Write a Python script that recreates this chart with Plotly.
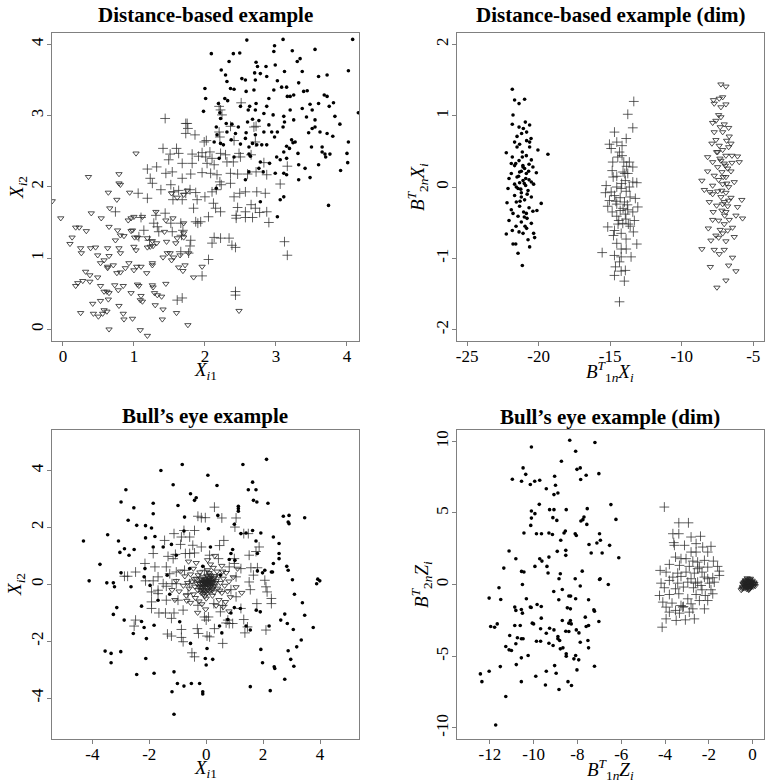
import plotly.graph_objects as go

# ---------------- data ----------------
# Panel 1: Distance-based example  (x = X_i1, y = X_i2)
dist_dots = [(4.08,4.07),(3.10,4.07),(2.59,4.06),(2.09,3.87),(2.40,3.87),(2.49,3.88),(3.23,3.91),(3.55,3.93),(2.98,3.98),(2.97,3.90),(3.34,3.80),(3.30,3.76),(2.34,3.76),(2.72,3.75),(2.74,3.69),(2.86,3.69),(2.99,3.71),(2.23,3.64),(3.37,3.62),(4.02,3.63),(3.12,3.62),(2.29,3.57),(2.70,3.60),(2.78,3.59),(2.87,3.55),(3.72,3.57),(3.60,3.55),(2.52,3.52),(2.57,3.50),(2.31,3.48),(2.71,3.50),(3.02,3.49),(3.32,3.46),(2.00,3.38),(2.36,3.38),(2.41,3.37),(3.08,3.40),(3.15,3.40),(2.58,3.34),(2.69,3.36),(2.97,3.36),(3.20,3.27),(3.25,3.29),(3.39,3.34),(3.44,3.35),(3.68,3.29),(3.72,3.27),(2.01,3.24),(2.28,3.24),(3.16,3.27),(2.90,3.24),(3.60,3.17),(3.81,3.18),(3.75,3.13),(2.32,3.21),(2.19,3.17),(2.50,3.13),(2.63,3.13),(2.72,3.17),(2.87,3.13),(2.71,3.08),(2.61,3.08),(3.37,3.10),(3.48,3.16),(3.51,3.08),(4.16,3.04),(1.98,3.06),(2.21,3.04),(3.20,3.08),(2.83,3.03),(2.96,3.01),(3.11,2.99),(3.43,2.98),(3.83,2.99),(2.22,2.96),(2.76,2.93),(2.67,2.95),(2.30,2.89),(2.38,2.88),(2.60,2.91),(3.12,2.91),(3.25,2.94),(2.16,2.84),(2.90,2.87),(3.55,2.94),(3.90,2.88),(2.47,2.84),(3.51,2.82),(3.55,2.84),(3.02,2.77),(3.10,2.84),(2.31,2.77),(2.43,2.75),(2.58,2.76),(2.71,2.73),(2.83,2.77),(2.94,2.77),(2.98,2.70),(3.46,2.76),(3.62,2.77),(3.72,2.75),(2.17,2.73),(2.37,2.66),(2.57,2.68),(2.13,2.63),(2.22,2.61),(2.67,2.61),(2.80,2.59),(2.87,2.59),(3.22,2.66),(3.24,2.62),(3.27,2.63),(3.80,2.71),(2.26,2.59),(2.50,2.60),(2.62,2.56),(2.73,2.59),(3.15,2.57),(3.19,2.54),(3.50,2.56),(3.65,2.56),(4.02,2.63),(2.62,2.46),(3.11,2.49),(3.31,2.47),(3.65,2.49),(3.69,2.46),(3.76,2.46),(4.00,2.47),(4.01,2.34),(3.70,2.42),(3.06,2.38),(3.15,2.40),(2.20,2.40),(2.41,2.42),(2.64,2.43),(2.78,2.35),(2.91,2.33),(3.01,2.42),(3.32,2.31),(3.41,2.26),(3.60,2.31),(2.76,2.26),(2.82,2.21),(2.99,2.19),(3.11,2.19),(3.32,2.10),(3.48,2.13),(3.91,2.23),(3.15,2.17),(3.06,1.82),(3.11,1.86),(3.02,1.58),(2.78,1.79),(3.74,1.74),(2.16,1.98),(2.57,2.10),(2.62,2.21)]
dist_plus = [(1.44,2.96),(1.73,2.89),(1.75,2.89),(1.76,2.82),(1.73,2.75),(1.86,2.73),(2.02,2.65),(1.99,2.63),(2.20,3.13),(2.22,3.08),(2.24,3.01),(2.36,2.85),(2.20,2.77),(2.21,2.70),(2.69,2.84),(2.72,2.85),(2.51,3.18),(2.41,2.65),(2.71,2.63),(1.41,2.54),(1.60,2.54),(1.51,2.46),(1.63,2.47),(1.49,2.38),(1.68,2.33),(1.82,2.46),(1.82,2.33),(1.91,2.43),(1.96,2.48),(2.01,2.42),(2.07,2.49),(2.10,2.40),(2.03,2.33),(2.13,2.31),(2.22,2.47),(2.29,2.45),(2.31,2.35),(2.40,2.35),(2.48,2.47),(2.50,2.42),(2.65,2.45),(2.83,2.34),(1.19,2.25),(1.32,2.28),(1.45,2.19),(1.54,2.21),(1.23,2.12),(1.26,2.05),(1.52,2.03),(1.68,2.12),(1.80,2.18),(1.96,2.20),(2.08,2.19),(2.17,2.17),(2.21,2.07),(2.36,2.19),(2.46,2.18),(2.60,2.18),(2.72,2.21),(2.87,2.17),(3.16,2.29),(3.06,2.04),(1.38,1.96),(1.56,1.93),(1.63,1.95),(1.55,1.82),(1.68,1.82),(1.73,1.91),(1.79,1.96),(1.87,1.92),(1.89,1.82),(2.00,1.86),(2.10,1.93),(2.16,1.96),(2.23,2.03),(2.36,2.05),(2.41,1.86),(2.57,1.93),(2.73,1.93),(2.85,1.91),(2.49,1.91),(1.06,1.91),(1.19,1.84),(1.84,1.70),(2.12,1.77),(2.15,1.70),(2.22,1.65),(2.46,1.71),(2.57,1.65),(2.65,1.75),(2.71,1.70),(2.77,1.64),(2.87,1.65),(2.57,1.57),(2.67,1.57),(2.44,1.60),(2.44,1.56),(2.05,1.58),(1.94,1.51),(1.90,1.49),(1.87,1.51),(2.90,1.50),(0.74,1.65),(1.10,1.57),(1.31,1.60),(1.44,1.63),(1.28,1.49),(1.33,1.44),(1.35,1.37),(1.14,1.39),(1.52,1.49),(1.54,1.37),(1.66,1.49),(1.69,1.39),(1.67,1.32),(1.80,1.25),(2.13,1.29),(2.22,1.28),(2.34,1.28),(2.10,1.21),(2.38,1.18),(2.43,1.15),(1.79,1.17),(3.12,1.23),(3.16,1.04),(2.05,0.98),(1.66,1.09),(1.77,1.07),(1.96,0.75),(1.61,0.41),(1.68,0.44),(2.43,0.48),(2.43,0.53),(1.07,1.30),(1.22,1.25)]
dist_tri = [(-0.15,1.80),(-0.03,1.56),(0.36,2.14),(0.79,2.18),(0.79,2.05),(0.81,2.03),(1.03,2.47),(0.64,1.92),(0.94,1.92),(0.76,1.82),(0.66,1.70),(0.40,1.63),(0.54,1.56),(0.18,1.43),(0.23,1.43),(0.33,1.38),(0.13,1.29),(0.10,1.20),(0.65,1.44),(0.92,1.53),(0.96,1.56),(1.00,1.58),(1.12,1.58),(0.98,1.39),(0.96,1.38),(0.81,1.32),(0.86,1.31),(0.74,1.25),(1.01,1.29),(1.05,1.29),(1.19,1.28),(1.26,1.24),(0.25,1.14),(0.39,1.14),(0.46,1.15),(0.26,1.07),(0.49,1.04),(0.63,1.14),(0.65,1.03),(0.79,1.14),(0.81,1.07),(1.00,1.16),(1.03,1.11),(1.19,1.15),(1.23,1.16),(1.27,1.17),(1.32,1.21),(1.43,1.37),(1.61,1.28),(1.70,1.29),(1.59,1.21),(1.46,1.23),(1.53,0.97),(1.56,1.01),(1.41,1.01),(1.47,1.07),(1.65,1.04),(1.77,1.07),(1.72,0.90),(1.63,0.87),(1.69,0.82),(1.84,0.73),(1.96,0.88),(0.58,0.97),(0.53,0.93),(0.63,0.88),(0.63,0.86),(0.71,0.90),(0.76,0.79),(0.81,0.80),(0.88,0.86),(0.93,0.93),(1.00,0.83),(1.04,0.88),(1.10,0.88),(1.26,0.90),(1.26,0.93),(1.18,0.79),(0.32,0.81),(0.38,0.76),(0.49,0.73),(0.21,0.65),(0.28,0.68),(0.38,0.67),(0.18,0.61),(0.53,0.61),(0.73,0.62),(0.85,0.61),(1.05,0.63),(1.07,0.61),(1.26,0.62),(1.27,0.59),(1.45,0.64),(0.58,0.53),(0.62,0.53),(0.65,0.51),(0.78,0.55),(0.96,0.51),(1.10,0.47),(1.29,0.51),(1.33,0.48),(1.39,0.46),(0.53,0.40),(0.64,0.42),(1.09,0.41),(1.12,0.39),(0.79,0.33),(1.30,0.34),(0.42,0.36),(0.58,0.27),(0.62,0.25),(0.56,0.22),(0.50,0.18),(0.25,0.23),(0.43,0.22),(0.85,0.22),(0.98,0.15),(0.86,0.14),(1.41,0.28),(1.40,0.14),(1.60,0.23),(0.65,0.00),(1.09,-0.01),(1.19,-0.09),(1.76,0.06),(2.48,0.26),(0.77,1.39),(1.70,1.35),(1.51,1.07),(1.55,1.56),(1.45,1.53),(1.31,1.65),(1.70,1.49),(1.53,1.91),(1.61,1.85),(1.70,1.89),(1.75,1.95)]

# Panel 2: Distance-based example (dim)  (x = B1n'X, y = B2n'X)
dim_dots = [(-21.84,1.37),(-21.68,1.22),(-20.98,1.23),(-21.37,1.17),(-21.79,1.01),(-21.84,0.88),(-20.93,0.91),(-20.63,0.87),(-21.37,0.84),(-21.07,0.82),(-20.84,0.77),(-21.19,0.75),(-21.51,0.71),(-20.53,0.68),(-20.84,0.65),(-21.68,0.63),(-21.33,0.60),(-20.63,0.56),(-20.05,0.52),(-21.51,0.56),(-22.26,0.48),(-19.35,0.46),(-21.14,0.49),(-20.86,0.44),(-21.84,0.42),(-20.51,0.38),(-21.37,0.37),(-21.91,0.33),(-20.67,0.32),(-21.68,0.30),(-21.09,0.28),(-20.40,0.28),(-21.33,0.21),(-21.91,0.19),(-20.86,0.19),(-20.16,0.20),(-21.51,0.14),(-22.07,0.12),(-21.09,0.09),(-20.67,0.10),(-21.33,0.06),(-21.68,0.04),(-20.91,0.02),(-20.35,0.04),(-21.44,-0.02),(-22.14,-0.02),(-20.74,-0.05),(-21.21,-0.08),(-21.68,-0.12),(-20.51,-0.14),(-20.98,-0.18),(-21.56,-0.21),(-22.21,-0.22),(-19.82,-0.23),(-21.33,-0.27),(-20.67,-0.29),(-21.91,-0.32),(-21.05,-0.35),(-20.40,-0.34),(-20.12,-0.33),(-21.44,-0.41),(-20.81,-0.44),(-22.07,-0.47),(-21.21,-0.49),(-20.51,-0.51),(-21.58,-0.55),(-20.84,-0.58),(-21.84,-0.61),(-21.37,-0.63),(-22.26,-0.66),(-21.09,-0.65),(-20.35,-0.65),(-20.28,-0.71),(-20.74,-0.74),(-21.79,-0.80),(-21.60,-0.80),(-20.63,-0.84),(-21.44,-0.93),(-21.14,-1.10),(-21.21,0.22),(-20.98,0.26),(-20.51,0.07),(-21.21,-0.14),(-20.86,-0.37),(-21.79,-0.37),(-21.56,0.00),(-21.14,0.42),(-20.63,0.63),(-21.00,0.05),(-21.25,-0.03),(-20.90,0.12),(-21.10,0.30),(-21.40,0.15),(-20.80,-0.10),(-21.30,-0.20),(-21.00,-0.42),(-20.70,0.22),(-21.60,0.33),(-20.95,-0.55)]
dim_plus = [(-13.35,1.20),(-13.77,1.02),(-13.42,0.83),(-14.70,0.77),(-15.05,0.60),(-14.54,0.63),(-13.88,0.68),(-14.17,0.58),(-14.93,0.54),(-14.35,0.49),(-14.17,0.44),(-14.82,0.35),(-13.66,0.35),(-13.85,0.29),(-13.42,0.28),(-14.86,0.23),(-14.10,0.21),(-13.77,0.19),(-14.54,0.15),(-13.94,0.09),(-13.42,0.07),(-13.14,0.06),(-15.28,0.02),(-14.54,0.00),(-14.23,-0.02),(-13.88,-0.06),(-15.33,-0.08),(-14.70,-0.12),(-14.30,-0.15),(-13.61,-0.14),(-13.24,-0.16),(-15.05,-0.19),(-14.00,-0.21),(-14.54,-0.24),(-15.17,-0.27),(-13.07,-0.28),(-13.77,-0.32),(-14.30,-0.33),(-14.86,-0.35),(-13.42,-0.35),(-13.94,-0.38),(-14.54,-0.41),(-13.31,-0.47),(-14.12,-0.51),(-15.17,-0.56),(-13.73,-0.52),(-14.70,-0.61),(-14.23,-0.65),(-13.38,-0.63),(-13.89,-0.73),(-13.14,-0.80),(-14.54,-0.79),(-14.23,-0.87),(-13.88,-0.87),(-15.56,-0.92),(-14.70,-0.96),(-14.23,-0.98),(-13.54,-0.98),(-14.35,-1.05),(-14.63,-1.12),(-14.70,-1.24),(-14.23,-1.18),(-13.94,-1.17),(-14.01,-1.32),(-14.35,-1.61),(-14.47,0.42),(-13.98,0.19),(-14.93,-0.07),(-13.66,0.00),(-14.79,0.14),(-14.40,-0.47),(-14.77,-0.68),(-14.10,-0.30),(-13.90,-0.45),(-14.60,-0.20),(-14.20,0.05),(-13.80,-0.25),(-14.45,-0.52),(-14.05,0.35),(-13.60,-0.55)]
dim_tri = [(-7.26,1.44),(-6.91,1.41),(-7.78,1.22),(-7.73,1.17),(-7.38,1.24),(-7.14,1.26),(-7.26,1.12),(-6.91,1.16),(-7.42,1.01),(-7.26,0.98),(-7.61,0.93),(-7.84,0.90),(-7.03,0.88),(-6.72,0.83),(-7.31,0.84),(-7.73,0.77),(-7.14,0.77),(-6.68,0.71),(-6.86,0.65),(-7.61,0.66),(-7.89,0.61),(-7.38,0.58),(-6.56,0.61),(-6.72,0.56),(-7.14,0.52),(-7.56,0.49),(-8.19,0.42),(-6.10,0.43),(-6.91,0.44),(-7.33,0.40),(-7.84,0.35),(-6.49,0.34),(-5.98,0.35),(-7.03,0.33),(-7.49,0.28),(-6.79,0.26),(-8.19,0.22),(-7.19,0.21),(-6.56,0.22),(-7.73,0.16),(-6.91,0.14),(-7.42,0.10),(-8.59,0.09),(-6.33,0.07),(-7.14,0.04),(-7.84,0.02),(-6.72,0.00),(-8.42,-0.04),(-7.49,-0.06),(-6.91,-0.08),(-7.84,-0.10),(-7.26,-0.14),(-6.56,-0.15),(-5.80,-0.18),(-8.07,-0.21),(-7.03,-0.21),(-7.56,-0.26),(-6.79,-0.27),(-6.10,-0.28),(-7.19,-0.33),(-7.80,-0.35),(-6.91,-0.35),(-6.21,-0.40),(-5.75,-0.44),(-6.68,-0.46),(-7.42,-0.47),(-7.84,-0.46),(-7.03,-0.52),(-6.45,-0.57),(-8.14,-0.58),(-7.31,-0.60),(-6.79,-0.61),(-7.61,-0.68),(-7.42,-0.71),(-6.33,-0.70),(-6.91,-0.76),(-8.59,-0.87),(-7.03,-0.88),(-7.38,-0.94),(-6.45,-0.99),(-6.72,-1.10),(-8.00,-1.12),(-6.21,-1.18),(-6.91,-1.31),(-7.54,-1.41),(-7.73,-0.88),(-7.96,-0.75),(-7.14,-0.65),(-7.10,0.14),(-7.26,0.37),(-6.49,0.44),(-7.49,0.49),(-8.03,-0.07),(-6.72,-0.19),(-7.14,-0.24),(-6.95,0.30),(-7.00,-0.40),(-6.85,0.05),(-7.20,-0.05)]

# Panel 3: Bull's eye example  (x = X_i1, y = X_i2)
bull_dots = [(-4.31,1.52),(-4.11,0.12),(-3.73,0.70),(-3.46,1.74),(-3.49,0.05),(-3.26,0.05),(-3.22,-0.09),(-3.14,-0.82),(-3.26,-1.06),(-2.99,2.89),(-2.82,3.32),(-3.08,1.52),(-3.03,1.12),(-2.87,1.25),(-2.71,1.02),(-2.53,1.22),(-2.99,0.40),(-2.88,-1.26),(-2.74,2.25),(-2.54,2.69),(-2.44,2.07),(-2.64,-0.09),(-2.56,-1.73),(-2.44,-3.17),(-3.55,-2.35),(-3.34,-2.43),(-3.00,-2.37),(-3.34,-2.76),(-2.13,2.06),(-2.13,1.63),(-2.15,0.55),(-2.18,0.26),(-2.27,-0.77),(-2.27,-1.31),(-2.18,-1.52),(-2.10,-1.91),(-2.12,-2.61),(-1.97,-0.04),(-1.92,1.98),(-1.86,2.48),(-1.86,2.85),(-1.86,1.31),(-1.80,1.68),(-1.83,-1.44),(-1.83,-3.13),(-1.69,-0.56),(-1.59,4.00),(-1.51,1.31),(-1.37,0.32),(-1.28,-0.35),(-1.22,1.40),(-1.16,3.50),(-1.13,-3.08),(-1.20,-3.78),(-1.13,-4.57),(-1.05,1.02),(-1.01,-3.49),(-0.93,-1.32),(-0.99,2.77),(-0.84,4.21),(-0.78,1.87),(-0.76,2.36),(-0.78,-3.58),(-0.55,3.18),(-0.55,-2.08),(-0.52,-3.49),(-0.41,2.95),(-0.35,3.04),(-0.23,-3.49),(-0.12,-3.78),(-0.12,-3.86),(-0.03,-2.61),(0.00,-2.84),(0.03,-2.26),(0.06,3.83),(0.15,1.31),(0.23,-2.64),(0.38,3.47),(0.41,2.42),(0.47,-1.47),(0.55,-1.71),(0.76,-1.24),(0.81,0.87),(0.87,1.08),(0.93,1.22),(0.87,-1.01),(1.01,0.84),(0.99,-0.82),(0.99,2.11),(1.13,2.74),(1.13,2.66),(1.13,2.57),(1.22,1.78),(1.20,-0.85),(1.29,4.21),(1.40,1.80),(1.40,-1.47),(1.55,-1.61),(1.55,-3.60),(1.48,3.32),(1.63,3.59),(1.75,3.32),(1.66,2.95),(1.78,2.89),(1.63,1.89),(1.75,1.52),(1.76,-0.91),(1.80,0.47),(1.80,1.08),(1.92,1.80),(1.90,-0.97),(1.92,-2.29),(1.98,-2.76),(1.98,0.40),(2.06,0.49),(2.12,4.39),(2.17,2.85),(2.21,-1.47),(2.25,-3.74),(2.29,0.43),(2.33,0.43),(2.36,1.66),(2.36,0.73),(2.56,1.43),(2.56,1.08),(2.56,0.90),(2.62,-1.26),(2.41,-2.96),(2.39,-2.90),(2.71,2.39),(2.91,2.13),(2.91,2.42),(2.88,2.19),(2.76,-1.05),(2.76,-3.34),(2.85,-1.38),(2.83,0.63),(2.88,0.49),(2.88,-2.34),(2.97,-2.64),(3.03,0.16),(3.06,-1.59),(3.10,-0.35),(3.08,-2.88),(3.18,-2.20),(3.34,-1.96),(3.38,-0.65),(3.46,2.34),(3.46,-1.09),(3.76,-1.52),(3.88,0.02),(3.92,0.18),(3.99,0.12),(0.08,1.95),(0.50,0.32),(-0.12,0.63),(-0.58,0.55)]
bull_plus = [(0.29,2.71),(-0.29,2.39),(-0.17,2.34),(-0.03,2.34),(0.55,2.33),(1.05,2.33),(1.01,2.01),(1.32,1.78),(1.48,1.78),(-0.78,1.89),(-0.41,1.89),(-0.58,1.66),(-0.87,1.66),(-1.13,1.78),(-1.46,1.54),(-0.90,1.40),(-0.73,1.08),(-0.58,1.08),(-0.41,1.10),(-1.08,1.05),(-1.34,0.98),(-0.17,1.31),(0.12,1.02),(0.62,1.54),(0.47,1.36),(0.99,0.90),(0.99,0.73),(1.51,1.02),(1.86,1.31),(1.75,1.15),(1.22,0.55),(1.57,0.58),(1.80,0.58),(1.66,0.32),(2.06,0.14),(1.51,0.08),(1.55,-0.19),(2.10,-0.09),(2.14,-0.27),(2.29,-0.50),(-1.86,1.08),(-2.15,0.73),(-2.48,0.43),(-2.76,0.28),(-2.13,0.12),(-1.86,0.12),(-1.69,0.26),(-1.80,0.61),(-1.40,0.61),(-1.28,0.37),(-1.51,0.02),(-1.20,0.02),(-1.05,0.02),(-1.92,-0.27),(-1.69,-0.21),(-1.40,-0.07),(-1.92,-0.62),(-1.92,-0.85),(-1.66,-1.01),(-1.40,-0.56),(-1.43,-1.01),(-1.13,-1.01),(-1.22,-1.20),(-1.36,-1.75),(-1.22,-1.82),(-0.87,-1.59),(-0.87,-1.87),(-0.81,-2.02),(-0.31,-1.56),(-0.27,-1.73),(0.03,-1.82),(0.12,-1.85),(-0.06,-1.15),(0.08,-1.15),(0.00,-1.26),(0.50,-0.97),(0.29,-1.56),(0.58,-2.08),(-0.50,-2.41),(-0.41,-2.55),(0.76,-1.26),(0.70,-1.36),(0.81,-1.38),(0.93,-1.38),(1.32,-1.24),(1.36,-1.71),(1.45,-1.50),(2.10,-1.61),(1.78,-0.68),(2.29,-0.68),(-2.48,-1.26),(-2.53,-1.47),(-2.87,0.28),(-0.06,0.49),(-0.58,0.02),(-0.47,1.37),(-1.16,0.90),(0.43,0.90),(0.87,-0.19),(1.05,-0.44),(1.22,-0.85),(0.27,-0.68),(-0.29,-0.74),(-0.99,-0.56),(-0.81,-0.91),(0.58,-0.74),(1.05,0.26),(0.81,0.61),(-0.76,0.49),(-1.05,0.43),(-1.69,-0.33),(-0.64,-0.33)]
bull_tri = [(0.00,0.05),(0.05,-0.02),(-0.05,0.10),(0.10,0.08),(-0.10,-0.05),(0.15,-0.10),(-0.15,0.15),(0.20,0.02),(-0.20,-0.12),(0.08,0.20),(-0.08,-0.20),(0.25,0.18),(-0.25,0.05),(0.12,-0.25),(-0.12,0.25),(0.30,-0.05),(-0.30,-0.20),(0.02,0.30),(0.03,-0.32),(0.18,0.30),(-0.18,-0.30),(0.35,0.12),(-0.35,0.20),(0.28,-0.28),(-0.28,0.32),(0.40,-0.15),(-0.40,-0.08),(0.10,0.40),(-0.05,-0.42),(0.22,-0.40),(-0.22,0.42),(0.45,0.30),(-0.45,-0.35),(0.50,0.05),(-0.50,0.10),(0.05,0.50),(0.00,-0.50),(0.38,0.45),(-0.38,-0.48),(0.55,-0.30),(-0.55,0.35),(0.60,0.20),(-0.60,-0.15),(0.25,0.58),(-0.25,-0.60),(0.65,-0.05),(-0.65,0.05),(0.45,-0.55),(-0.45,0.55),(0.70,0.40),(-0.70,-0.40),(0.15,0.70),(-0.15,-0.70),(0.75,-0.25),(-0.75,0.28),(0.80,0.10),(-0.80,-0.05),(0.55,0.65),(-0.55,-0.65),(0.35,-0.75),(-0.35,0.75),(0.85,-0.45),(-0.90,0.45),(0.05,0.85),(-0.02,-0.88),(0.95,0.25),(-0.95,-0.25),(0.60,-0.80),(-0.62,0.80),(1.05,-0.10),(-1.05,0.12),(0.30,1.00),(-0.30,-1.00),(1.10,0.55),(-1.10,-0.55),(0.80,-0.95),(0.02,0.00),(-0.02,-0.02),(0.07,0.12),(-0.12,0.02),(0.14,0.04),(-0.04,0.18),(0.22,-0.15),(-0.18,-0.22),(0.06,-0.12),(-0.08,0.06),(0.16,0.14),(-0.14,-0.14),(0.32,0.05),(-0.32,0.02),(0.12,0.34),(-0.10,-0.35),(0.28,0.22),(-0.24,-0.08),(0.20,-0.22),(-0.20,0.20),(0.04,0.08),(0.09,-0.06),(-0.06,0.02),(0.12,0.15),(-0.03,-0.10),(0.18,-0.04),(0.24,0.08),(-0.16,0.08),(0.00,0.16),(0.06,-0.20),(0.30,0.28),(-0.42,0.18),(0.48,-0.22),(0.58,0.45),(-0.68,-0.58),(0.68,-0.62),(1.25,-0.30),(-1.20,-0.20),(0.03,0.03),(-0.03,0.06),(0.11,-0.02),(-0.09,0.11),(0.13,0.22),(-0.13,-0.09),(0.19,0.09),(-0.21,0.01),(0.01,-0.24),(0.08,0.27),(-0.07,-0.28),(0.24,-0.08)]

# Panel 4: Bull's eye example (dim)  (x = B1n'Z, y = B2n'Z)
bdim_dots = [(-8.35,10.07),(-7.20,9.91),(-10.10,9.60),(-8.08,9.30),(-8.73,8.60),(-10.48,8.14),(-8.02,8.04),(-7.87,8.14),(-10.36,7.69),(-7.02,7.74),(-7.60,7.63),(-10.97,7.35),(-9.95,7.21),(-9.72,7.28),(-10.55,7.21),(-10.15,6.98),(-9.04,7.56),(-9.00,6.93),(-7.85,7.33),(-9.42,6.69),(-8.89,6.39),(-9.07,6.28),(-9.74,5.60),(-10.10,5.13),(-9.94,4.95),(-10.10,4.64),(-9.27,5.23),(-9.07,5.23),(-9.12,4.67),(-8.94,4.48),(-8.51,5.23),(-7.55,5.30),(-7.70,4.72),(-7.75,4.53),(-7.84,4.44),(-7.57,4.20),(-6.47,5.58),(-6.24,4.55),(-10.13,4.13),(-10.44,3.60),(-9.87,3.55),(-9.64,3.55),(-9.30,3.60),(-9.14,3.50),(-8.55,3.74),(-8.61,3.60),(-8.10,3.55),(-8.05,3.43),(-6.99,3.55),(-7.47,2.80),(-7.11,2.90),(-6.95,3.09),(-6.53,2.74),(-8.76,3.09),(-8.53,2.39),(-8.92,2.32),(-8.53,2.04),(-7.37,2.20),(-6.87,2.20),(-6.11,1.87),(-11.12,2.34),(-10.81,1.80),(-9.72,1.80),(-9.62,1.64),(-9.30,1.92),(-9.39,1.27),(-9.94,1.27),(-11.36,1.15),(-10.55,0.92),(-10.44,0.88),(-9.34,0.81),(-8.78,0.76),(-7.78,0.94),(-8.10,0.41),(-8.84,0.41),(-6.99,0.36),(-6.96,0.41),(-10.51,0.01),(-6.59,0.01),(-7.87,-0.10),(-11.58,-0.22),(-12.03,-0.94),(-11.50,-1.04),(-10.33,-0.99),(-9.08,-0.48),(-8.69,-0.34),(-8.85,-1.06),(-8.39,-0.79),(-8.31,-0.80),(-8.08,-0.99),(-7.49,-1.06),(-9.84,-1.39),(-9.65,-1.53),(-10.15,-1.57),(-10.11,-1.60),(-10.86,-1.57),(-10.56,-1.74),(-10.51,-1.99),(-8.46,-1.62),(-8.32,-1.69),(-10.81,-1.80),(-7.25,-1.76),(-7.22,-1.85),(-9.65,-2.34),(-8.69,-2.50),(-8.32,-2.50),(-7.64,-2.27),(-7.02,-2.57),(-10.06,-2.69),(-10.00,-2.74),(-11.96,-2.92),(-11.78,-2.97),(-11.66,-2.74),(-10.86,-2.85),(-10.61,-2.85),(-8.39,-2.69),(-8.28,-2.74),(-7.60,-2.92),(-7.49,-2.85),(-9.27,-3.04),(-9.07,-3.16),(-9.68,-3.08),(-8.05,-3.16),(-7.93,-3.37),(-8.39,-3.27),(-8.53,-3.25),(-8.89,-3.62),(-8.89,-3.78),(-9.42,-3.39),(-11.09,-3.55),(-10.74,-3.71),(-10.56,-3.78),(-10.48,-3.78),(-9.87,-3.95),(-9.68,-3.95),(-8.81,-3.90),(-9.30,-4.09),(-9.11,-4.25),(-8.66,-4.41),(-8.78,-4.48),(-7.87,-4.02),(-7.52,-3.90),(-7.49,-4.41),(-10.81,-4.13),(-10.25,-4.95),(-11.27,-4.32),(-11.12,-4.55),(-11.01,-4.60),(-10.56,-5.11),(-8.08,-4.95),(-8.16,-5.18),(-7.94,-5.25),(-8.51,-4.83),(-8.51,-5.00),(-10.79,-5.58),(-11.52,-5.72),(-9.04,-5.65),(-7.22,-5.69),(-8.02,-5.95),(-12.03,-6.04),(-9.42,-6.04),(-12.43,-6.23),(-8.97,-6.18),(-9.90,-6.39),(-12.36,-6.77),(-10.56,-6.77),(-8.43,-6.77),(-8.27,-7.04),(-9.46,-7.00),(-8.84,-7.32),(-11.27,-7.81),(-11.73,-9.79)]
bdim_plus = [(-4.03,5.41),(-3.37,4.31),(-2.93,4.31),(-3.64,3.55),(-3.37,3.55),(-2.81,3.32),(-2.38,3.37),(-3.60,2.93),(-3.57,2.74),(-3.11,2.74),(-2.58,2.86),(-2.28,2.62),(-1.90,2.67),(-2.81,2.27),(-2.58,2.27),(-2.05,2.27),(-3.52,1.92),(-3.27,1.81),(-3.04,1.81),(-2.73,1.64),(-2.51,1.57),(-2.20,1.69),(-1.79,1.64),(-3.80,1.41),(-3.34,1.34),(-2.89,1.27),(-2.43,1.22),(-2.05,1.22),(-1.60,1.27),(-4.22,0.99),(-3.95,0.87),(-3.42,0.80),(-3.04,0.87),(-2.66,0.80),(-2.31,0.87),(-1.52,0.94),(-3.64,0.52),(-3.27,0.57),(-2.81,0.41),(-2.20,0.52),(-1.82,0.48),(-4.18,0.10),(-3.80,0.29),(-3.42,0.10),(-2.96,0.17),(-2.51,0.17),(-1.97,0.10),(-1.75,0.17),(-4.03,-0.22),(-3.52,-0.29),(-3.16,-0.17),(-2.70,-0.22),(-2.31,-0.36),(-1.90,-0.36),(-4.25,-0.76),(-3.80,-0.69),(-3.37,-0.64),(-2.96,-0.99),(-2.58,-0.69),(-2.16,-0.76),(-1.82,-0.64),(-4.10,-1.22),(-3.68,-1.29),(-3.27,-1.46),(-2.81,-1.34),(-2.43,-1.11),(-2.05,-1.11),(-3.95,-1.57),(-3.52,-1.80),(-3.16,-1.53),(-2.73,-1.69),(-2.20,-1.69),(-3.80,-1.92),(-3.34,-1.99),(-2.89,-1.92),(-3.95,-2.39),(-3.49,-2.50),(-3.07,-2.46),(-2.66,-2.39),(-4.13,-2.97),(-3.19,-1.57),(-2.61,0.10),(-2.35,-0.06),(-2.05,0.41),(-2.51,1.11),(-1.52,0.64)]
bdim_tri = [(-0.20,0.00),(-0.15,0.10),(-0.25,-0.10),(-0.10,-0.05),(-0.30,0.08),(-0.05,0.12),(-0.35,-0.05),(-0.18,0.25),(-0.22,-0.25),(0.00,0.00),(-0.40,0.00),(-0.12,0.30),(-0.28,-0.30),(0.05,0.10),(-0.45,-0.15),(-0.08,-0.20),(-0.32,0.22),(-0.20,0.38),(-0.15,-0.32),(0.08,-0.05),(-0.52,-0.38),(-0.38,0.18),(-0.02,0.28),(-0.26,0.15),(-0.14,-0.12),(-0.06,0.05),(-0.34,-0.18),(-0.10,0.20),(-0.24,-0.05),(0.02,-0.15),(-0.42,0.10),(-0.30,0.30),(-0.18,-0.38),(0.10,0.05),(-0.48,-0.30),(-0.25,0.45),(-0.10,0.42),(0.12,-0.10),(-0.22,0.05),(-0.17,-0.06),(-0.27,0.02),(-0.12,0.05),(-0.21,0.14),(-0.19,-0.15),(-0.32,-0.10),(-0.08,-0.08),(-0.36,0.12),(-0.04,0.18),(-0.28,0.24),(-0.13,-0.24),(-0.40,-0.26),(-0.02,-0.06),(-0.16,0.18),(-0.24,-0.18),(-0.44,0.04),(0.04,0.04),(-0.30,-0.02),(-0.10,0.12),(-0.20,-0.30),(-0.34,0.30),(-0.06,-0.14),(-0.46,-0.22),(0.06,0.16),(-0.14,0.36)]

# ticks (R-style hyphen minus)
dist_xticks = [0, 1, 2, 3, 4]
dist_yticks = [0, 1, 2, 3, 4]
dim_xticks = [-25, -20, -15, -10, -5]
dim_yticks = [-2, -1, 0, 1, 2]
bull_ticks = [-4, -2, 0, 2, 4]
bdim_xticks = [-12, -10, -8, -6, -4, -2, 0]
bdim_yticks = [-10, -5, 0, 5, 10]

titles = ["Distance-based example", "Distance-based example (dim)",
          "Bull\u2019s eye example", "Bull\u2019s eye example (dim)"]

# ---------------- figure ----------------
W, H = 765, 784
SERIF = "Liberation Serif"
fig = go.Figure()

DOT = dict(symbol="circle", size=3.6, color="black", line=dict(width=0))
PLUS = dict(symbol="cross-thin", size=7, color="rgba(45,45,45,0.75)",
            line=dict(width=1, color="rgba(45,45,45,0.75)"))
TRI = dict(symbol="triangle-down-open", size=5.5, color="rgba(35,35,35,0.8)",
           line=dict(width=1, color="rgba(35,35,35,0.8)"))

panels = [
    ("x", "y", dist_tri, dist_plus, dist_dots),
    ("x2", "y2", dim_tri, dim_plus, dim_dots),
    ("x3", "y3", bull_tri, bull_plus, bull_dots),
    ("x4", "y4", bdim_tri, bdim_plus, bdim_dots),
]
for xa, ya, tri, plus, dots in panels:
    for pts, mk in ((tri, TRI), (plus, PLUS), (dots, DOT)):
        fig.add_trace(go.Scatter(
            x=[p[0] for p in pts], y=[p[1] for p in pts], mode="markers",
            marker=mk, xaxis=xa, yaxis=ya, showlegend=False, hoverinfo="skip"))

def tl(v):
    return [str(t) for t in v]

def ax(domain, rng, ticks, anchor, y=False):
    d = dict(domain=domain, range=rng, tickvals=ticks, ticktext=tl(ticks),
             showgrid=False, zeroline=False, showline=True, mirror=True,
             linecolor="#808080", linewidth=1, ticks="outside", ticklen=4,
             tickcolor="#808080", tickwidth=1, anchor=anchor,
             ticklabelstandoff=-4,
             tickfont=dict(family=SERIF, size=17, color="black"))
    if y:
        d["tickangle"] = -90
        d["ticklabelstandoff"] = -3
    return d

xl, xr = [51 / W, 359 / W], [456.7 / W, 1.0]
yt, yb = [1 - 341 / H, 1 - 33 / H], [1 - 739 / H, 1 - 429.5 / H]

fig.update_layout(
    width=W, height=H, autosize=False,
    margin=dict(l=0, r=0, t=0, b=0),
    paper_bgcolor="white", plot_bgcolor="white",
    xaxis=ax(xl, [-0.155, 4.17], dist_xticks, "y"),
    yaxis=ax(yt, [-0.164, 4.16], dist_yticks, "x", y=True),
    xaxis2=ax(xr, [-25.74, -4.25], dim_xticks, "y2"),
    yaxis2=ax(yt, [-2.16, 2.16], dim_yticks, "x2", y=True),
    xaxis3=ax(xl, [-5.42, 5.37], bull_ticks, "y3"),
    yaxis3=ax(yb, [-5.44, 5.44], bull_ticks, "x3", y=True),
    xaxis4=ax(xr, [-13.52, 0.52], bdim_xticks, "y4"),
    yaxis4=ax(yb, [-10.77, 10.82], bdim_yticks, "x4", y=True),
)

ann = []
# panel titles
for txt, cx, cy in [(titles[0], 205, 15), (titles[1], 611, 15),
                    (titles[2], 205, 416), (titles[3], 611, 417)]:
    ann.append(dict(text="<b>" + txt + "</b>", x=cx / W, y=1 - cy / H,
                    xref="paper", yref="paper", showarrow=False,
                    xanchor="center", yanchor="middle",
                    font=dict(family=SERIF, size=21, color="black")))

X1 = "<i>X</i><sub><i>i</i>1</sub>"
X2 = "<i>X</i><sub><i>i</i>2</sub>"
B1X = "<i>B</i><sup><i>T</i></sup><sub>1<i>n</i></sub><i>X</i><sub><i>i</i></sub>"
B2X = "<i>B</i><sup><i>T</i></sup><sub>2<i>n</i></sub><i>X</i><sub><i>i</i></sub>"
B1Z = "<i>B</i><sup><i>T</i></sup><sub>1<i>n</i></sub><i>Z</i><sub><i>i</i></sub>"
B2Z = "<i>B</i><sup><i>T</i></sup><sub>2<i>n</i></sub><i>Z</i><sub><i>i</i></sub>"
for txt, cx, cy, ang in [(X1, 205, 371, 0), (B1X, 611, 371, 0),
                         (X1, 205, 769, 0), (B1Z, 611, 769, 0),
                         (X2, 17, 187, -90), (B2X, 418, 187, -90),
                         (X2, 15, 584, -90), (B2Z, 421, 584, -90)]:
    ann.append(dict(text=txt, x=cx / W, y=1 - cy / H, xref="paper", yref="paper",
                    showarrow=False, xanchor="center", yanchor="middle",
                    textangle=ang, font=dict(family=SERIF, size=19, color="black")))
fig.update_layout(annotations=ann)

fig.write_html("out.html",
               config={"displayModeBar": False},
               post_script="document.body.style.margin='0';document.body.style.overflow='hidden';")
